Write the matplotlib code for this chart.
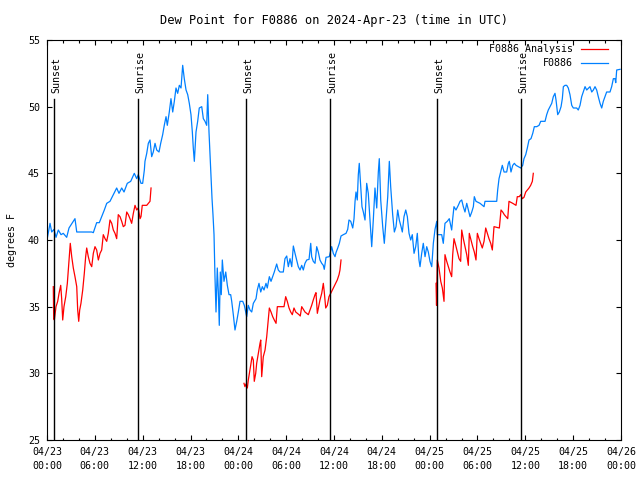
import numpy as np
import matplotlib
matplotlib.use("Agg")
import matplotlib.pyplot as plt
from matplotlib.ticker import MultipleLocator

nan = np.nan

# hours since 2024-04-23 00:00 UTC
obs_hours = [
    0.00, 0.38, 0.59, 0.88, 1.13, 1.42, 1.76, 2.04, 2.47, 2.76, 3.30, 3.51, 3.73, 5.61, 5.81,
    6.23, 6.56, 6.86, 7.19, 7.49, 7.90, 8.32, 8.74, 9.03, 9.37, 9.66, 10.07, 10.50, 10.95,
    11.25, 11.45, 11.79, 12.00, 12.21, 12.29, 12.51, 12.71, 12.92, 13.13, 13.33, 13.55, 13.76,
    14.05, 14.26, 14.51, 14.71, 14.93, 15.09, 15.34, 15.55, 15.77, 15.97, 16.18, 16.39, 16.60,
    16.81, 17.02, 17.22, 17.44, 17.65, 17.85, 18.06, 18.23, 18.35, 18.48, 18.69, 18.90, 19.10,
    19.41, 19.61, 19.82, 20.03, 20.16, 20.32, 20.45, 20.57, 20.70, 20.82, 20.95, 21.07, 21.20,
    21.36, 21.49, 21.61, 21.74, 21.86, 21.99, 22.20, 22.42, 22.62, 22.83, 23.04, 23.17, 23.37,
    23.58, 23.80, 24.00, 24.21, 24.55, 24.75, 24.96, 25.05, 25.25, 25.46, 25.68, 25.88, 26.22,
    26.38, 26.59, 26.81, 27.01, 27.22, 27.47, 27.63, 27.89, 28.10, 28.31, 28.51, 28.81, 29.01,
    29.23, 29.64, 29.85, 30.07, 30.27, 30.48, 30.70, 30.90, 31.11, 31.32, 31.52, 31.74, 31.95,
    32.15, 32.36, 32.58, 32.87, 33.08, 33.20, 33.40, 33.62, 33.83, 34.03, 34.24, 34.46, 34.66,
    34.78, 35.00, 35.41, 35.71, 35.91, 36.13, 36.25, 36.47, 36.67, 36.88, 37.17, 37.51, 37.72,
    37.88, 38.10, 38.35, 38.51, 38.64, 38.76, 38.92, 39.05, 39.17, 39.35, 39.51, 39.68, 39.89,
    40.10, 40.30, 40.52, 40.73, 40.93, 41.14, 41.36, 41.56, 41.68, 41.86, 42.11, 42.31, 42.52,
    42.74, 42.94, 43.11, 43.36, 43.57, 43.78, 43.99, 44.19, 44.41, 44.57, 44.78, 45.00, 45.20,
    45.41, 45.62, 45.82, 46.04, 46.25, 46.45, 46.66, 46.79, 47.00, 47.20, 47.42, 47.63, 47.83,
    48.04, 48.26, 48.46, 48.67, 48.89, 48.96, 49.51, 49.71, 49.92, 50.21, 50.46, 50.64, 50.76,
    50.89, 51.05, 51.30, 51.59, 51.81, 52.02, 52.22, 52.43, 52.65, 52.85, 53.06, 53.28, 53.48,
    53.60, 53.81, 54.32, 54.82, 54.94, 56.41, 56.53, 56.70, 56.91, 57.11, 57.33, 57.66, 57.87,
    57.99, 58.20, 58.42, 58.62, 58.83, 59.12, 59.42, 59.67, 59.83, 60.05, 60.25, 60.46, 60.71,
    60.93, 61.13, 61.43, 61.72, 61.93, 62.47, 62.68, 62.88, 63.10, 63.31, 63.51, 63.72, 63.85,
    64.06, 64.26, 64.48, 64.64, 64.77, 64.98, 65.19, 65.39, 65.60, 65.82, 66.02, 66.44, 66.64,
    66.86, 67.07, 67.27, 67.49, 67.70, 68.11, 68.33, 68.53, 68.74, 68.95, 69.15, 69.37, 69.58,
    69.78, 69.99, 70.20, 70.62, 70.83, 71.04, 71.25, 71.34, 71.46, 71.88,
]
obs_dewpt = [
    40.0, 41.25, 40.6, 40.8, 40.2, 40.75, 40.4, 40.5, 40.2, 40.9, 41.4, 41.6, 40.6, 40.6, 40.55,
    41.3, 41.3, 41.75, 42.25, 42.75, 42.9, 43.4, 43.9, 43.5, 43.9, 43.6, 44.25, 44.4, 45.0,
    44.6, 44.9, 44.25, 44.25, 45.25, 45.9, 46.5, 47.25, 47.5, 46.25, 46.6, 47.25, 46.75,
    46.6, 47.25, 47.9, 48.6, 49.25, 48.6, 49.6, 50.6, 49.6, 50.4, 51.4, 51.0, 51.6,
    51.4, 53.1, 52.1, 51.25, 50.9, 50.25, 49.4, 48.1, 46.9, 45.9, 48.1, 48.9, 49.9,
    50.0, 49.1, 48.9, 48.6, 50.9, 48.1, 46.4, 44.9, 43.1, 41.9, 40.4, 37.25, 34.6,
    37.9, 36.1, 33.6, 37.6, 35.9, 38.5, 36.9, 37.6, 36.6, 35.9, 35.9, 35.4, 34.4,
    33.25, 33.9, 34.6, 35.4, 35.4, 35.1, 34.5, 34.25, 35.1, 34.75, 34.6, 35.25, 35.6,
    36.25, 36.75, 36.1, 36.5, 36.25, 36.75, 36.4, 37.25, 36.9, 37.25, 37.6, 38.2, 37.75,
    37.6, 37.6, 38.6, 38.8, 38.0, 38.6, 38.0, 39.55, 39.0, 38.5, 38.0, 37.75, 38.1,
    37.75, 38.25, 38.5, 38.55, 39.75, 38.75, 38.4, 38.25, 39.5, 39.1, 38.5, 38.25, 38.1,
    37.8, 38.7, 38.75, 39.5, 39.0, 38.75, 39.05, 39.4, 39.75, 40.3, 40.4, 40.5, 40.8,
    41.5, 41.4, 40.9, 41.6, 42.9, 43.6, 43.0, 44.9, 45.75, 44.0, 42.5, 42.1, 41.5,
    44.25, 43.5, 41.5, 39.5, 41.5, 43.9, 42.4, 45.1, 46.1, 43.0, 41.0, 39.75, 41.5,
    43.25, 45.9, 44.0, 41.9, 40.6, 41.0, 42.25, 41.5, 41.0, 40.6, 41.75, 42.25, 41.75,
    40.5, 40.0, 40.4, 39.0, 39.5, 40.5, 38.5, 38.0, 39.0, 39.75, 38.75, 39.5, 39.1,
    38.4, 38.0, 39.75, 40.8, 41.4, 40.4, 40.4, 39.75, 41.25, 41.4, 41.6, 41.1, 40.75,
    41.6, 42.5, 42.25, 42.6, 42.9, 43.0, 42.5, 42.1, 42.75, 42.25, 41.75, 42.1, 42.5,
    43.25, 42.9, 42.75, 42.5, 42.9, 42.9, 43.75, 44.6, 45.1, 45.6, 45.1, 45.1, 45.75,
    45.9, 45.1, 45.6, 45.75, 45.6, 45.5, 45.4, 45.6, 46.1, 46.4, 46.9, 47.5, 47.6,
    48.0, 48.5, 48.5, 48.6, 48.9, 48.9, 49.4, 49.75, 50.0, 50.25, 50.75, 51.0, 50.5,
    49.4, 49.6, 50.0, 50.6, 51.5, 51.6, 51.6, 51.4, 50.9, 50.1, 49.9, 49.9, 49.75,
    50.1, 50.75, 51.1, 51.5, 51.25, 51.5, 51.1, 51.25, 51.5, 51.25, 50.75, 50.25, 49.9,
    50.4, 50.75, 51.1, 51.1, 51.5, 52.1, 52.1, 51.8, 52.75, 52.8,
]

# analysis comes in three separate runs (nan breaks the line)
ana_hours = [
    0.79, 0.84, 0.92, 1.13, 1.34, 1.51, 1.72, 1.84, 1.97, 2.13, 2.35, 2.55, 2.76, 2.92, 3.10,
    3.30, 3.51, 3.73, 3.85, 3.98, 4.10, 4.26, 4.48, 4.68, 4.85, 4.98, 5.18, 5.39, 5.61, 5.81,
    6.02, 6.23, 6.44, 6.65, 6.86, 7.06, 7.28, 7.49, 7.69, 7.90, 8.12, 8.32, 8.53, 8.74, 8.94,
    9.16, 9.37, 9.57, 9.78, 10.00, 10.20, 10.41, 10.62, 10.83, 11.04, 11.25, 11.45, 11.67,
    11.79, 11.95, 12.51, 12.71, 12.92, 13.05, nan,
    24.71, 24.83, 24.96, 25.13, 25.25, 25.38, 25.55, 25.72, 25.88, 26.00, 26.18, 26.30, 26.51,
    26.72, 26.81, 26.93, 27.13, 27.35, 27.56, 27.76, 27.89, 28.10, 28.31, 28.51, 28.73, 28.89,
    29.73, 29.94, 30.14, 30.36, 30.57, 30.77, 30.98, 31.20, 31.40, 31.61, 31.77, 31.95, 32.15,
    32.36, 32.58, 32.78, 32.99, 33.20, 33.40, 33.62, 33.74, 33.91, 34.08, 34.24, 34.46, 34.66,
    34.78, 34.96, 35.16, 35.37, 35.59, 35.79, 36.00, 36.21, 36.41, 36.63, 36.75, 36.88, nan,
    48.80, 48.86, 48.96, 49.17, 49.39, 49.59, 49.80, 49.92, 50.14, 50.34, 50.55, 50.76, 50.89,
    51.05, 51.27, 51.47, 51.68, 51.89, 52.02, 52.22, 52.43, 52.65, 52.85, 52.97, 53.18, 53.40,
    53.60, 53.81, 53.98, 54.19, 54.40, 54.60, 54.82, 55.03, 55.23, 55.44, 55.66, 55.86, 56.07,
    56.74, 56.95, 57.16, 57.36, 57.58, 57.79, 57.95, 58.42, 58.83, 58.99, 59.24, 59.42, 59.62,
    59.83, 60.05, 60.25, 60.46, 60.67, 60.88, 61.00,
]
ana_dewpt = [
    36.5, 34.1, 34.0, 35.0, 35.4, 36.0, 36.6, 35.6, 34.0, 35.0, 35.75, 36.75, 38.5, 39.75, 38.75,
    37.9, 37.25, 36.5, 34.75, 33.9, 34.75, 35.25, 36.25, 37.5, 38.75, 39.4, 38.75, 38.25, 38.0, 39.0,
    39.5, 39.25, 38.5, 39.0, 39.25, 40.4, 40.1, 39.9, 40.5, 41.5, 41.25, 40.75, 40.5, 40.1, 41.9,
    41.75, 41.4, 41.0, 41.1, 42.1, 41.9, 41.6, 41.25, 42.0, 42.6, 42.25, 42.4, 41.6,
    41.75, 42.6, 42.6, 42.75, 42.9, 43.9, nan,
    29.25, 29.0, 29.2, 28.9, 29.5, 30.0, 30.6, 31.25, 31.0, 29.4, 30.0, 30.75, 31.5,
    32.25, 32.5, 29.75, 31.25, 31.75, 32.75, 34.0, 34.9, 34.6, 34.25, 34.0, 33.75, 35.0,
    35.0, 35.75, 35.4, 34.9, 34.6, 34.4, 34.9, 34.6, 34.5, 34.4, 34.3, 35.0, 34.8,
    34.6, 34.5, 34.4, 34.75, 35.1, 35.5, 35.9, 36.05, 34.5, 35.0, 35.5, 36.0, 36.75,
    36.1, 34.9, 35.1, 35.75, 36.0, 36.25, 36.5, 36.75, 37.0, 37.4, 37.75, 38.5, nan,
    36.75, 35.1, 38.5, 37.9, 36.9, 36.4, 35.4, 38.9, 38.4, 38.0, 37.6, 37.25, 38.9,
    40.1, 39.6, 39.1, 38.6, 38.4, 40.75, 40.1, 39.5, 38.9, 38.1, 40.5, 40.0, 39.5,
    39.1, 38.5, 40.5, 40.1, 39.75, 39.4, 39.9, 40.9, 40.5, 40.1, 39.75, 39.25, 41.0,
    40.9, 42.25, 42.1, 41.9, 41.75, 41.6, 42.9, 42.75, 42.6, 43.25, 43.25, 43.4, 43.1,
    43.2, 43.6, 43.75, 43.9, 44.1, 44.4, 45.0,
]

sun_hours = [0.92, 11.45, 25.0, 35.54, 48.96, 59.5]
sun_labels = ["Sunset", "Sunrise", "Sunset", "Sunrise", "Sunset", "Sunrise"]

tick_hours = list(range(0, 73, 6))
tick_labels = [
    "04/23\n00:00", "04/23\n06:00", "04/23\n12:00", "04/23\n18:00",
    "04/24\n00:00", "04/24\n06:00", "04/24\n12:00", "04/24\n18:00",
    "04/25\n00:00", "04/25\n06:00", "04/25\n12:00", "04/25\n18:00",
    "04/26\n00:00",
]

plt.rcParams["font.family"] = "DejaVu Sans Mono"
plt.rcParams["font.size"] = 7.2

fig = plt.figure(figsize=(6.4, 4.8), dpi=100)
ax = fig.add_axes([47 / 640, 40 / 480, 574 / 640, 400 / 480])

ax.plot(ana_hours, ana_dewpt, color="#ff0000", lw=0.9, label="F0886 Analysis")
ax.plot(obs_hours, obs_dewpt, color="#0080ff", lw=0.9, label="F0886")

line_top = 50.57
for h, lab in zip(sun_hours, sun_labels):
    ax.plot([h, h], [25, line_top], color="black", lw=1.0)
    ax.annotate(lab, xy=(h, line_top), xytext=(1.2, 4.5), textcoords="offset points",
                rotation=90, ha="center", va="bottom")

ax.set_xlim(0, 72)
ax.set_ylim(25, 55)
ax.set_xticks(tick_hours)
ax.set_xticklabels(tick_labels, linespacing=1.45)
ax.xaxis.set_minor_locator(MultipleLocator(2))
ax.set_yticks(range(25, 56, 5))
ax.tick_params(which="both", direction="in", top=True, right=True, pad=5)
ax.tick_params(which="major", length=3.6, width=0.8)
ax.tick_params(which="minor", length=1.8, width=0.8)
for s in ax.spines.values():
    s.set_linewidth(0.8)

ax.set_ylabel("degrees F", labelpad=8)
ax.set_title("Dew Point for F0886 on 2024-Apr-23 (time in UTC)", pad=11.5)

ax.legend(loc="upper right", bbox_to_anchor=(0.993, 1.01), frameon=False,
          markerfirst=False, handlelength=2.75, handletextpad=0.8,
          borderaxespad=0.75, borderpad=0.1, labelspacing=0.4)

fig.savefig("out.png", dpi=100)
